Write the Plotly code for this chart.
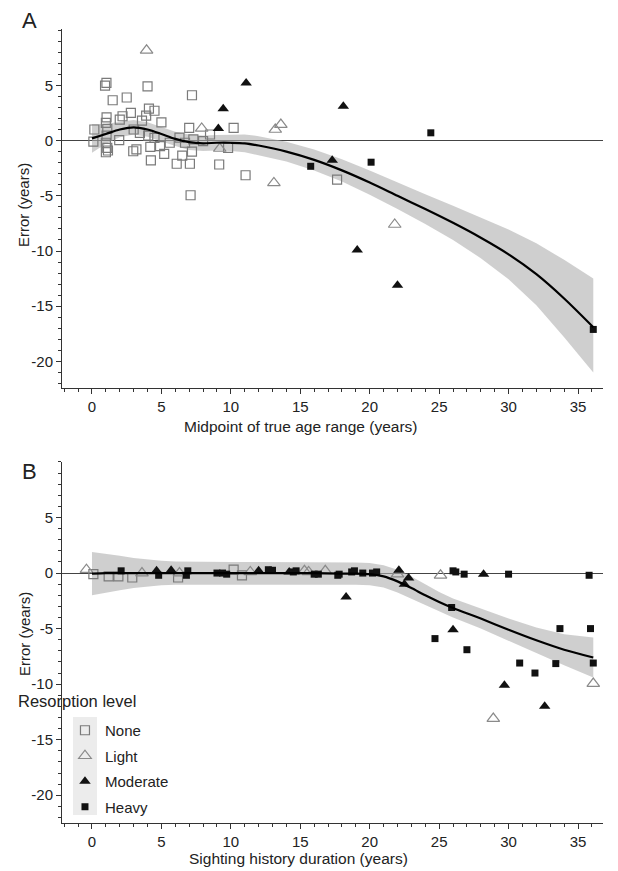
import plotly.graph_objects as go

F = "Arial, Liberation Sans, sans-serif"

# ---------------- Panel A data (midpoint of true age range vs error) ----------------
a_none_x = [0.94, 1.04, 4.0, 1.49, 2.5, 7.2, 10.2, 7.0, 2.8, 2.2, 4.1, 4.5, 3.9, 5.0, 3.6,
            1.05, 1.0, 1.1, 1.05, 1.0, 1.1, 1.0, 1.15, 0.17, 0.1, 1.96, 2.97, 3.2, 4.24, 4.2,
            4.9, 3.45, 5.2, 6.1, 7.05, 6.5, 7.2, 7.1, 9.8, 9.16, 11.06, 5.6, 6.3, 6.7, 7.3,
            8.0, 8.5, 4.05, 4.5, 17.65, 2.0, 3.0]
a_none_y = [4.98, 5.22, 4.9, 3.65, 3.9, 4.1, 1.15, 1.15, 2.5, 2.2, 2.9, 2.7, 2.26, 1.65, 1.8,
            2.1, 1.6, 1.05, 0.45, -0.2, -0.66, -1.06, -0.9, 1.0, -0.1, 0.03, -0.97, -0.8, -1.8, -0.57,
            -0.5, 0.7, -1.2, -2.1, -2.1, -1.36, -1.0, -4.95, -0.66, -2.17, -3.14, -0.2, 0.27, -0.2, 0.1,
            -0.06, 0.55, 0.45, 0.25, -3.53, 1.9, 1.0]
a_light_x = [3.93, 7.9, 9.2, 13.2, 13.6, 13.1, 21.8]
a_light_y = [8.17, 1.1, -0.72, 1.0, 1.45, -3.83, -7.6]
a_mod_x = [11.1, 9.45, 9.1, 18.1, 17.3, 19.1, 22.0]
a_mod_y = [5.2, 2.87, 1.09, 3.1, -1.78, -9.9, -13.1]
a_heavy_x = [15.75, 20.1, 24.4, 36.1]
a_heavy_y = [-2.33, -1.96, 0.7, -17.1]

a_fit_x = [0, 1, 2, 3, 4, 5, 6, 7, 8, 9, 10, 11, 12, 14, 16, 18, 20, 22, 24, 26, 28, 30, 32, 34, 36.1]
a_fit_y = [0.2, 0.6, 1.0, 1.2, 1.0, 0.6, 0.15, -0.15, -0.25, -0.2, -0.2, -0.25, -0.45, -1.0, -1.75,
           -2.7, -3.8, -5.0, -6.2, -7.45, -8.8, -10.3, -12.1, -14.3, -16.9]
a_upper = [1.5, 1.5, 1.7, 1.85, 1.65, 1.25, 0.8, 0.55, 0.45, 0.5, 0.55, 0.55, 0.4, -0.1, -0.8,
           -1.7, -2.7, -3.8, -4.85, -5.9, -6.95, -8.05, -9.3, -10.8, -12.5]
a_lower = [-1.1, -0.3, 0.3, 0.55, 0.35, -0.05, -0.5, -0.85, -0.95, -0.9, -0.95, -1.05, -1.3, -1.9,
           -2.7, -3.7, -4.9, -6.2, -7.55, -9.0, -10.65, -12.55, -14.9, -17.8, -21.0]

# ---------------- Panel B data (sighting history duration vs error) ----------------
b_none_x = [0.1, 1.2, 1.9, 2.9, 6.2, 10.2, 10.8]
b_none_y = [-0.1, -0.3, -0.3, -0.4, -0.4, 0.3, -0.2]
b_light_x = [-0.4, 3.6, 6.3, 11.4, 15.3, 15.6, 16.8, 22.0, 25.1, 28.9, 36.1]
b_light_y = [0.3, 0.0, 0.0, 0.1, 0.2, 0.1, 0.2, -0.1, -0.2, -13.1, -9.95]
b_mod_x = [4.65, 5.7, 12.0, 14.2, 18.3, 22.1, 22.8, 22.5, 26.0, 28.2, 29.7, 32.6]
b_mod_y = [0.2, 0.25, 0.2, 0.1, -2.15, 0.25, -0.45, -1.0, -5.1, -0.1, -10.1, -12.0]
b_heavy_x = [2.1, 4.8, 6.9, 6.8, 9.0, 9.4, 9.7, 12.7, 13.0, 14.5, 14.7, 16.0, 16.3, 17.7, 17.8,
             18.7, 18.9, 19.5, 20.2, 20.5, 26.0, 26.2, 26.8, 30.0, 35.8, 25.9, 24.7, 33.7, 35.9,
             27.0, 30.8, 33.4, 36.1, 31.9]
b_heavy_y = [0.2, -0.2, 0.2, -0.2, 0.0, 0.0, -0.1, 0.3, 0.25, 0.1, 0.2, -0.1, -0.1, -0.2, -0.1,
             0.1, 0.2, 0.0, 0.0, 0.1, 0.2, 0.1, -0.1, -0.1, -0.2, -3.1, -5.9, -5.0, -5.0,
             -6.9, -8.1, -8.15, -8.1, -9.0]

b_fit_x = [0, 1, 2, 3, 4, 5, 6, 8, 10, 12, 14, 16, 18, 19, 20, 21, 22, 23, 24, 25, 26, 28, 30, 32, 34, 36.1]
b_fit_y = [-0.05, 0, 0, 0, 0, 0, 0, 0, 0, 0, 0, 0, -0.05, -0.05, -0.1, -0.3, -0.75, -1.35, -2.0,
           -2.6, -3.15, -4.1, -5.1, -6.05, -6.9, -7.6]
b_upper = [1.9, 1.75, 1.55, 1.35, 1.2, 1.1, 1.05, 1.0, 1.0, 1.0, 1.0, 1.0, 0.95, 0.95, 0.9, 0.7,
           0.3, -0.3, -1.0, -1.7, -2.3, -3.2, -4.1, -4.9, -5.5, -5.8]
b_lower = [-2.0, -1.75, -1.55, -1.35, -1.2, -1.1, -1.05, -1.0, -1.0, -1.0, -1.0, -1.0, -1.05, -1.05,
           -1.1, -1.3, -1.75, -2.3, -2.9, -3.45, -4.0, -5.0, -6.1, -7.2, -8.3, -9.4]

levels = ["None", "Light", "Moderate", "Heavy"]
x_ticks = [0, 5, 10, 15, 20, 25, 30, 35]
y_ticks = [-20, -15, -10, -5, 0, 5]
y_tick_labels = ["-20", "-15", "-10", "-5", "0", "5"]

styles = {
    "None": dict(symbol="square-open", size=9, color="#7a7a7a", line=dict(width=1.2, color="#7a7a7a")),
    "Light": dict(symbol="triangle-up-open", size=11, color="#8a8a8a", line=dict(width=1.2, color="#8a8a8a")),
    "Moderate": dict(symbol="triangle-up", size=10, color="#111111", line=dict(width=0)),
    "Heavy": dict(symbol="square", size=7, color="#111111", line=dict(width=0)),
}

fig = go.Figure()


def add_panel(fit_x, fit_y, lo, hi, pts, xa, ya, legend):
    fig.add_trace(go.Scatter(x=fit_x + fit_x[::-1], y=hi + lo[::-1], fill="toself",
                             fillcolor="rgba(175,175,175,0.6)", line=dict(width=0),
                             mode="lines", hoverinfo="skip", showlegend=False,
                             xaxis=xa, yaxis=ya))
    for name, (px, py) in zip(levels, pts):
        fig.add_trace(go.Scatter(x=px, y=py, mode="markers", name=name, marker=styles[name],
                                 showlegend=legend, legendgroup=name, xaxis=xa, yaxis=ya))
    fig.add_trace(go.Scatter(x=fit_x, y=fit_y, mode="lines", line=dict(color="black", width=2.2,
                             shape="spline", smoothing=0.8), showlegend=False, hoverinfo="skip",
                             xaxis=xa, yaxis=ya))


add_panel(a_fit_x, a_fit_y, a_lower, a_upper,
          [(a_none_x, a_none_y), (a_light_x, a_light_y), (a_mod_x, a_mod_y), (a_heavy_x, a_heavy_y)],
          "x", "y", False)
add_panel(b_fit_x, b_fit_y, b_lower, b_upper,
          [(b_none_x, b_none_y), (b_light_x, b_light_y), (b_mod_x, b_mod_y), (b_heavy_x, b_heavy_y)],
          "x2", "y2", True)

ax = dict(showline=True, linecolor="#333", linewidth=1, ticks="outside", ticklen=5, tickwidth=1,
          tickcolor="#333", showgrid=False, tickfont=dict(size=15, color="#222", family=F),
          minor=dict(ticks="outside", ticklen=3, dtick=1, tickcolor="#333", showgrid=False))

xr = [-2.16, 36.8]
H = 794.0
fig.update_layout(
    width=618, height=871,
    margin=dict(l=62, r=15, t=29, b=48),
    paper_bgcolor="white", plot_bgcolor="white",
    font=dict(family=F, color="#222"),
    xaxis=dict(ax, range=xr, tickvals=x_ticks, anchor="y", zeroline=False),
    yaxis=dict(ax, range=[-22.4, 10.1], tickvals=y_ticks, ticktext=y_tick_labels,
               domain=[0.5479, 1.0], anchor="x",
               zeroline=True, zerolinecolor="#444", zerolinewidth=1.2),
    xaxis2=dict(ax, range=xr, tickvals=x_ticks, anchor="y2", zeroline=False),
    yaxis2=dict(ax, range=[-22.5, 10.0], tickvals=y_ticks, ticktext=y_tick_labels,
                domain=[0.0, 0.4547], anchor="x2",
                zeroline=True, zerolinecolor="#444", zerolinewidth=1.2),
    legend=dict(x=0.0055, xanchor="left", y=0.1373, yanchor="top", font=dict(size=15, family=F),
                bgcolor="rgba(0,0,0,0)", tracegroupgap=3, itemsizing="trace"),
    shapes=[dict(type="rect", xref="paper", yref="paper", x0=0.0203, x1=0.0647, y0=0.0101, y1=0.1335,
                 fillcolor="#ececec", line=dict(width=0), layer="below")],
    annotations=[
        dict(text="A", xref="paper", yref="paper", x=(20 - 62) / 541, y=(823 - 6) / H,
             xanchor="left", yanchor="top", showarrow=False, font=dict(size=22, family=F)),
        dict(text="B", xref="paper", yref="paper", x=(20 - 62) / 541, y=(823 - 457) / H,
             xanchor="left", yanchor="top", showarrow=False, font=dict(size=22, family=F)),
        dict(text="Midpoint of true age range (years)", xref="paper", yref="paper",
             x=(300 - 62) / 541, y=(823 - 426) / H, xanchor="center", yanchor="middle",
             showarrow=False, font=dict(size=15.5, family=F)),
        dict(text="Sighting history duration (years)", xref="paper", yref="paper",
             x=(298 - 62) / 541, y=(823 - 858) / H, xanchor="center", yanchor="middle",
             showarrow=False, font=dict(size=15.5, family=F)),
        dict(text="Error (years)", xref="paper", yref="paper", textangle=-90,
             x=(24 - 62) / 541, y=(823 - 205) / H, xanchor="center", yanchor="middle",
             showarrow=False, font=dict(size=15, family=F)),
        dict(text="Error (years)", xref="paper", yref="paper", textangle=-90,
             x=(24 - 62) / 541, y=(823 - 634) / H, xanchor="center", yanchor="middle",
             showarrow=False, font=dict(size=15, family=F)),
        dict(text="Resorption level", xref="paper", yref="paper",
             x=(16 - 62) / 541, y=(823 - 701) / H, xanchor="left", yanchor="middle",
             showarrow=False, font=dict(size=16.5, family=F)),
    ],
)

fig.write_html("out.html", config={"displayModeBar": False},
               post_script="document.body.style.margin='0';document.body.style.padding='0';"
                           "document.body.style.overflow='hidden';")
